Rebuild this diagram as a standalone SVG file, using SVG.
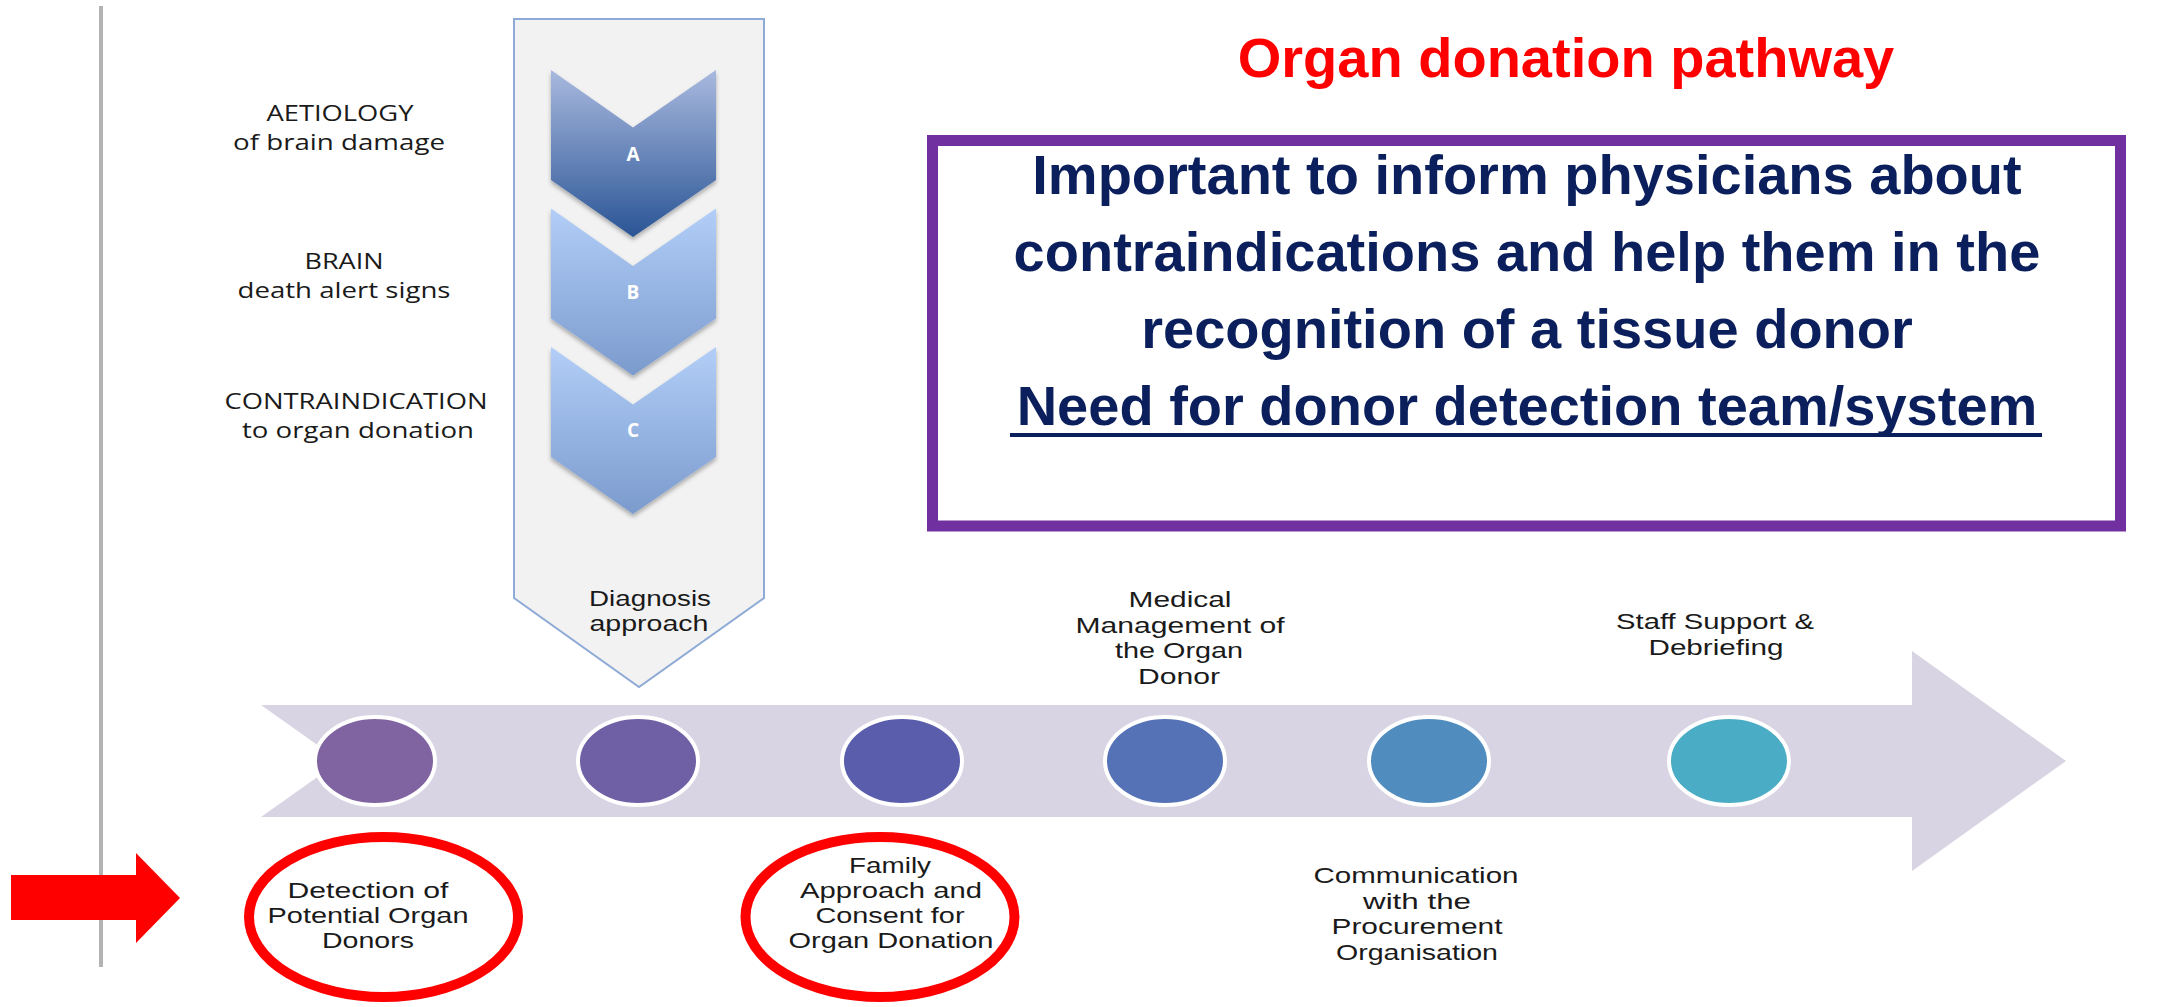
<svg xmlns="http://www.w3.org/2000/svg" width="2179" height="1007" viewBox="0 0 2179 1007">
<style>
.lbl{font-family:"Liberation Sans",Arial,sans-serif;font-size:22px;fill:#1a1a1a;text-anchor:middle}
.side{font-family:"Open Sans","Liberation Sans",sans-serif;font-size:21px;fill:#1a1a1a;text-anchor:middle}
.big{font-family:"Liberation Sans",Arial,sans-serif;font-size:56px;font-weight:bold;text-anchor:middle}
.letter{font-family:"Open Sans","Liberation Sans",sans-serif;font-size:19px;font-weight:bold;fill:#ffffff;text-anchor:middle}
.dot{stroke:#ffffff;stroke-width:4}
.redring{fill:none;stroke:#ff0000;stroke-width:10}
</style>
<defs>
<linearGradient id="gA" x1="0" y1="0" x2="0" y2="1">
<stop offset="0" stop-color="#a9b9df"/>
<stop offset="1" stop-color="#2a5595"/>
</linearGradient>
<linearGradient id="gB" x1="0" y1="0" x2="0" y2="1">
<stop offset="0" stop-color="#b2cef8"/>
<stop offset="1" stop-color="#7b9bcd"/>
</linearGradient>
<filter id="sh" x="-10%" y="-10%" width="120%" height="130%">
<feDropShadow dx="0" dy="3" stdDeviation="2" flood-color="#000" flood-opacity="0.3"/>
</filter>
</defs>
<rect width="2179" height="1007" fill="#ffffff"/>

<g id="left-rule">
<rect x="99" y="6" width="4" height="961" fill="#b3b3b3"/>
</g>

<g id="diagnosis-panel">
<polygon points="514,19 764,19 764,598 639,687 514,598" fill="#f2f2f2" stroke="#8eaad6" stroke-width="2"/>
<text class="lbl" x="650" y="606" textLength="122" lengthAdjust="spacingAndGlyphs">Diagnosis</text>
<text class="lbl" x="649" y="631" textLength="119" lengthAdjust="spacingAndGlyphs">approach</text>
</g>

<g id="chevron-a">
<polygon points="551,70 633,127.5 716,70 716,180 633,237 551,180" fill="url(#gA)" filter="url(#sh)"/>
<text class="letter" x="633" y="161">A</text>
</g>
<g id="chevron-b">
<polygon points="551,208.5 633,266 716,208.5 716,318.5 633,375.5 551,318.5" fill="url(#gB)" filter="url(#sh)"/>
<text class="letter" x="633" y="299">B</text>
</g>
<g id="chevron-c">
<polygon points="551,347 633,404.5 716,347 716,457 633,514 551,457" fill="url(#gB)" filter="url(#sh)"/>
<text class="letter" x="633" y="437">C</text>
</g>

<g id="label-aetiology">
<text class="side" x="340" y="121" textLength="147" lengthAdjust="spacingAndGlyphs">AETIOLOGY</text>
<text class="side" x="339" y="150" textLength="212" lengthAdjust="spacingAndGlyphs">of brain damage</text>
</g>
<g id="label-brain">
<text class="side" x="344" y="269" textLength="79" lengthAdjust="spacingAndGlyphs">BRAIN</text>
<text class="side" x="344" y="298" textLength="213" lengthAdjust="spacingAndGlyphs">death alert signs</text>
</g>
<g id="label-contra">
<text class="side" x="356" y="409" textLength="263" lengthAdjust="spacingAndGlyphs">CONTRAINDICATION</text>
<text class="side" x="358" y="438" textLength="232" lengthAdjust="spacingAndGlyphs">to organ donation</text>
</g>

<g id="title">
<text class="big" x="1566" y="77" fill="#ff0000">Organ donation pathway</text>
</g>

<g id="message-box">
<rect x="932.5" y="140.5" width="1188" height="385.5" fill="#ffffff" stroke="#7030a0" stroke-width="11"/>
<text class="big" x="1527" y="194" fill="#0a1f5c">Important to inform physicians about</text>
<text class="big" x="1527" y="271" fill="#0a1f5c">contraindications and help them in the</text>
<text class="big" x="1527" y="348" fill="#0a1f5c">recognition of a tissue donor</text>
<text class="big" x="1527" y="425" fill="#0a1f5c">Need for donor detection team/system</text>
<rect x="1010" y="433" width="1032" height="4" fill="#0a1f5c"/>
</g>

<g id="connectors">
<polygon id="timeline-arrow" points="261,705 1912,705 1912,651 2066,761 1912,871 1912,817 261,817 340,761" fill="#d8d4e3"/>
<polygon id="red-arrow" points="11,875 136,875 136,853 180,898 136,943 136,920 11,920" fill="#ff0000"/>
</g>

<g id="step-1">
<ellipse class="dot" cx="375" cy="761" rx="60" ry="44" fill="#8064a2"/>
<ellipse class="redring" cx="383.5" cy="917" rx="134.5" ry="80"/>
<text class="lbl" x="368" y="898" textLength="161" lengthAdjust="spacingAndGlyphs">Detection of</text>
<text class="lbl" x="368" y="923" textLength="201" lengthAdjust="spacingAndGlyphs">Potential Organ</text>
<text class="lbl" x="368" y="948" textLength="92" lengthAdjust="spacingAndGlyphs">Donors</text>
</g>
<g id="step-2">
<ellipse class="dot" cx="638" cy="761" rx="60" ry="44" fill="#6f60a6"/>
</g>
<g id="step-3">
<ellipse class="dot" cx="902" cy="761" rx="60" ry="44" fill="#5a5dac"/>
<ellipse class="redring" cx="880" cy="917" rx="134.5" ry="80"/>
<text class="lbl" x="890" y="873" textLength="82" lengthAdjust="spacingAndGlyphs">Family</text>
<text class="lbl" x="891" y="898" textLength="182" lengthAdjust="spacingAndGlyphs">Approach and</text>
<text class="lbl" x="890" y="923" textLength="149" lengthAdjust="spacingAndGlyphs">Consent for</text>
<text class="lbl" x="891" y="948" textLength="205" lengthAdjust="spacingAndGlyphs">Organ Donation</text>
</g>
<g id="step-4">
<ellipse class="dot" cx="1165" cy="761" rx="60" ry="44" fill="#5672b6"/>
<text class="lbl" x="1180" y="607" textLength="103" lengthAdjust="spacingAndGlyphs">Medical</text>
<text class="lbl" x="1180" y="633" textLength="209" lengthAdjust="spacingAndGlyphs">Management of</text>
<text class="lbl" x="1179" y="658" textLength="128" lengthAdjust="spacingAndGlyphs">the Organ</text>
<text class="lbl" x="1179" y="684" textLength="82" lengthAdjust="spacingAndGlyphs">Donor</text>
</g>
<g id="step-5">
<ellipse class="dot" cx="1429" cy="761" rx="60" ry="44" fill="#508cbe"/>
<text class="lbl" x="1416" y="883" textLength="205" lengthAdjust="spacingAndGlyphs">Communication</text>
<text class="lbl" x="1417" y="909" textLength="108" lengthAdjust="spacingAndGlyphs">with the</text>
<text class="lbl" x="1417" y="934" textLength="171" lengthAdjust="spacingAndGlyphs">Procurement</text>
<text class="lbl" x="1417" y="960" textLength="162" lengthAdjust="spacingAndGlyphs">Organisation</text>
</g>
<g id="step-6">
<ellipse class="dot" cx="1729" cy="761" rx="60" ry="44" fill="#4bacc6"/>
<text class="lbl" x="1715" y="629" textLength="198" lengthAdjust="spacingAndGlyphs">Staff Support &amp;</text>
<text class="lbl" x="1716" y="655" textLength="135" lengthAdjust="spacingAndGlyphs">Debriefing</text>
</g>
</svg>
